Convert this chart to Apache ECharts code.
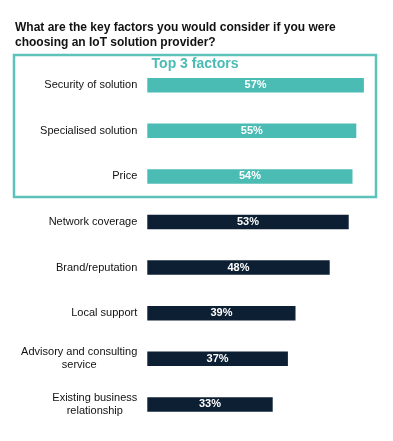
<!DOCTYPE html>
<html>
<head>
<meta charset="utf-8">
<script src="https://cdn.jsdelivr.net/npm/echarts@6/dist/echarts.min.js"></script>
<style>
html,body{margin:0;padding:0;background:#fff;}
#c{width:393px;height:441px;}
</style>
</head>
<body>
<div id="c"></div>
<script>
const categories = [
  "Security of solution",
  "Specialised solution",
  "Price",
  "Network coverage",
  "Brand/reputation",
  "Local support",
  "Advisory and consulting\nservice",
  "Existing business\nrelationship"
];
const values = [57, 55, 54, 53, 48, 39, 37, 33];
const topCount = 3;
const titleText = "What are the key factors you would consider if you were\nchoosing an IoT solution provider?";
const boxTitle = "Top 3 factors";

const TEAL = "#4bbcb4";
const NAVY = "#0c1f33";
const FONT = "Liberation Sans, Arial, sans-serif";

const chart = echarts.init(document.getElementById('c'), null, {renderer: 'canvas'});
chart.setOption({
  backgroundColor: '#fff',
  animation: false,
  title: {
    text: titleText,
    left: 15,
    top: 20,
    padding: 0,
    textStyle: {fontFamily: FONT, fontSize: 12, fontWeight: 'bold', color: '#111', lineHeight: 15}
  },
  graphic: [
    {
      type: 'rect',
      shape: {x: 14, y: 55, width: 362, height: 142},
      style: {fill: 'none', stroke: '#5cc2ba', lineWidth: 2.5},
      z: 0
    },
    {
      type: 'text',
      x: 195, y: 64.5,
      style: {text: boxTitle, fill: TEAL, font: 'bold 14px ' + FONT, textAlign: 'center', textVerticalAlign: 'middle'}
    }
  ],
  grid: {left: 147.3, top: 62.4, width: 228, height: 364.8},
  xAxis: {
    type: 'value', min: 0, max: 60, show: false
  },
  yAxis: {
    type: 'category',
    data: categories,
    inverse: true,
    axisLine: {show: false},
    axisTick: {show: false},
    splitLine: {show: false},
    axisLabel: {
      margin: 10,
      formatter: function (v) { return '{a|' + v + '}'; },
      rich: {
        a: {fontFamily: FONT, fontSize: 11, color: '#111', align: 'center', lineHeight: 13}
      }
    }
  },
  series: [{
    type: 'bar',
    barWidth: 14.5,
    data: values.map((v, i) => ({value: v, itemStyle: {color: i < topCount ? TEAL : NAVY}})),
    label: {
      show: true,
      position: 'inside',
      formatter: '{c}%',
      color: '#fff',
      fontFamily: FONT,
      fontSize: 11,
      fontWeight: 'bold'
    }
  }]
});
</script>
</body>
</html>
